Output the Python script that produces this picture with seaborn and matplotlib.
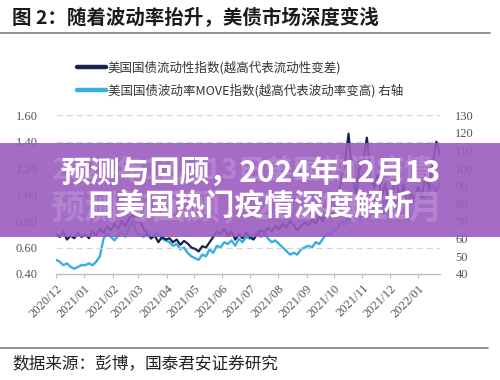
import numpy as np
import pandas as pd
import matplotlib
matplotlib.use("Agg")
import matplotlib.pyplot as plt
import seaborn as sns
from matplotlib.lines import Line2D
from matplotlib.patches import Rectangle

# ---------------- data (one point every 4 days) ----------------
start_date = "2020-12-01"
step = "4D"

# 美国国债流动性指数 (left axis)
liquidity = [0.70, 0.68, 0.72, 0.66, 0.69, 0.67, 0.71, 0.68,
             0.70, 0.67, 0.72, 0.69, 0.74, 0.71, 0.76, 0.73,
             0.78, 0.74, 0.80, 0.76, 0.82, 0.85, 0.79,
             0.80, 0.74, 0.70, 0.67, 0.69, 0.64, 0.68, 0.66,
             0.67, 0.64, 0.66, 0.62, 0.65, 0.63, 0.60,
             0.59, 0.57, 0.61, 0.60, 0.64, 0.68, 0.72, 0.70,
             0.74, 0.69, 0.72, 0.66, 0.70, 0.67, 0.71, 0.68,
             0.66, 0.70, 0.73, 0.71, 0.75, 0.72, 0.76,
             0.74, 0.78, 0.75, 0.80, 0.77, 0.73, 0.76, 0.79,
             0.77, 0.81, 0.78, 0.84, 0.80, 0.86, 0.82, 0.88,
             0.95, 1.10, 1.25, 1.46, 1.15, 1.00, 1.20,
             1.25, 1.43, 1.18, 1.05, 1.15, 0.98, 1.08, 0.94,
             1.02, 1.12, 0.96, 1.08, 0.92, 1.00, 0.97,
             1.06, 0.98, 1.15, 1.05, 1.22, 1.40, 1.30]

# 美国国债波动率MOVE指数 (right axis)
move = [48, 47, 45, 46, 44, 43, 44, 45,
        45, 46, 45, 47, 50, 60, 63, 61,
        59, 62, 64, 61, 66, 70, 63,
        62, 61, 64, 60, 62, 63, 60, 59,
        58, 56, 57, 54, 55, 52, 50,
        49, 48, 51, 50, 54, 52, 56, 55,
        58, 57, 59, 56, 60, 58, 61, 60,
        62, 64, 61, 63, 60, 58, 59,
        57, 55, 53, 51, 52, 51, 54, 55,
        56, 55, 58, 57, 60, 63, 62, 65,
        66, 70, 68, 72, 69, 74, 71,
        75, 73, 78, 76, 80, 77, 82, 79,
        83, 80, 84, 81, 79, 82, 80,
        84, 86, 83, 88, 90, 87, 92]

x_tick_labels = ["2020/12", "2021/01", "2021/02", "2021/03", "2021/04", "2021/05",
                 "2021/06", "2021/07", "2021/08", "2021/09", "2021/10", "2021/11",
                 "2021/12", "2022/01"]
left_ticks = [0.40, 0.60, 0.80, 1.00, 1.20, 1.40, 1.60]
right_ticks = [40, 50, 60, 70, 80, 90, 100, 110, 120, 130]

series_names = ["美国国债流动性指数(越高代表流动性变差)",
                "美国国债波动率MOVE指数(越高代表波动率变高) 右轴"]
title_text = "图 2：随着波动率抬升，美债市场深度变浅"
source_text = "数据来源：彭博，国泰君安证券研究"
banner_lines = ["预测与回顾，2024年12月13", "日美国热门疫情深度解析"]
ghost_lines = ["2024年12月13日美国热门疫情", "预测与回顾，2024年12月"]

# ---------------- style ----------------
sns.set_theme(style="white")
plt.rcParams["font.family"] = ["Noto Sans CJK SC", "DejaVu Sans"]

dark = "#14264a"
light = "#35b0df"
tick_color = "#555555"
serif = "Liberation Serif"

dates = pd.date_range(start_date, periods=len(liquidity), freq=step)
df = pd.DataFrame({"date": dates, "liq": liquidity, "move": move})

fig = plt.figure(figsize=(5, 3.8), dpi=100)
fig.patch.set_facecolor("white")
ax = fig.add_axes([0.112, 0.279, 0.768, 0.418])
ax2 = ax.twinx()

sns.lineplot(data=df, x="date", y="move", ax=ax2, color=light, linewidth=1.7)
sns.lineplot(data=df, x="date", y="liq", ax=ax, color=dark, linewidth=1.6)
ax.set_zorder(ax2.get_zorder() + 1)
ax.patch.set_visible(False)

ax.set_ylim(0.40, 1.60)
ax2.set_ylim(40, 130)
ax.set_yticks(left_ticks)
ax.set_yticklabels([f"{v:.2f}" for v in left_ticks], fontfamily=serif, fontsize=9, color=tick_color)
ax2.set_yticks(right_ticks)
ax2.set_yticklabels([f"{v}" for v in right_ticks], fontfamily=serif, fontsize=9, color=tick_color)

month_ticks = pd.date_range("2020-12-01", periods=len(x_tick_labels), freq="MS")
ax.set_xlim(pd.Timestamp("2020-12-01"), pd.Timestamp("2022-01-25"))
ax.set_xticks(month_ticks)
ax.set_xticklabels(x_tick_labels, rotation=45, ha="right", rotation_mode="anchor",
                   fontfamily=serif, fontsize=9, color=tick_color)
ax.set_xlabel("")
ax.set_ylabel("")
ax2.set_ylabel("")

for a in (ax, ax2):
    for s in ("left", "right", "top", "bottom"):
        a.spines[s].set_visible(False)
ax.spines["bottom"].set_visible(True)
ax.spines["bottom"].set_color("#c0c0c0")
ax.spines["bottom"].set_linewidth(1.0)

ax.tick_params(axis="x", length=3, color="#c0c0c0", width=0.8, pad=3, bottom=True)
ax.tick_params(axis="y", length=0, pad=13)
ax2.tick_params(axis="y", length=0, pad=11)

ax.grid(False)
ax2.grid(False)
for v in left_ticks[1:]:
    ax.axhline(v, color="#d4d4d4", linestyle=(0, (5, 3)), linewidth=0.9, zorder=0)

# ---------------- legend ----------------
handles = [Line2D([0], [0], color=dark, linewidth=3.2),
           Line2D([0], [0], color=light, linewidth=3.2)]
fig.legend(handles, series_names, loc="upper left", bbox_to_anchor=(77 / 500, 1 - 61 / 380),
           frameon=False, handlelength=2.3, handletextpad=0.15,
           labelspacing=0.75, borderpad=0, borderaxespad=0,
           prop={"family": ["Noto Sans CJK SC", "DejaVu Sans"], "size": 9})
for t in fig.legends[0].get_texts():
    t.set_color("#333333")

# ---------------- title, rules, source ----------------
fig.text(12 / 500, 1 - 17 / 380, title_text, fontsize=14, fontweight="bold",
         color="#1a1a1a", ha="left", va="center")
fig.add_artist(Line2D([0, 490 / 500], [1 - 33 / 380] * 2, transform=fig.transFigure,
                      color="#808080", linewidth=1.2))
fig.add_artist(Line2D([0, 488 / 500], [1 - 348 / 380] * 2, transform=fig.transFigure,
                      color="#808080", linewidth=1.2))
fig.text(12 / 500, 1 - 364 / 380, source_text, fontsize=12, color="#222222",
         ha="left", va="center")

# ---------------- banner overlay ----------------
fig.add_artist(Rectangle((0, 1 - 237 / 380), 1, 94 / 380, transform=fig.transFigure,
                         facecolor="#9a5cbf", alpha=0.9, edgecolor="none", zorder=10))
fig.text(52 / 500, 1 - 170 / 380, ghost_lines[0], fontsize=20, fontweight="bold",
         color="#c39bdc", alpha=0.5, ha="left", va="center", zorder=11)
fig.text(50 / 500, 1 - 209 / 380, ghost_lines[1], fontsize=24.5, fontweight="bold",
         color="#c39bdc", alpha=0.5, ha="left", va="center", zorder=11)
fig.text(0.5, 1 - 173 / 380, banner_lines[0], fontsize=21.5, fontweight="bold",
         color="white", ha="center", va="center", zorder=12)
fig.text(0.5, 1 - 207 / 380, banner_lines[1], fontsize=21.5, fontweight="bold",
         color="white", ha="center", va="center", zorder=12)

fig.savefig("out.png", dpi=100, facecolor="white")
